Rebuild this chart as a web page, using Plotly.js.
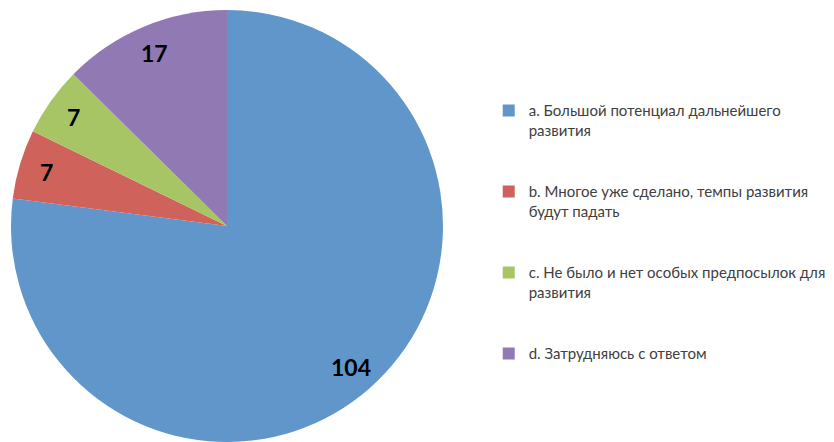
<!DOCTYPE html>
<html>
<head>
<meta charset="utf-8">
<script src="https://cdn.plot.ly/plotly-3.0.1.min.js"></script>
<style>html,body{margin:0;padding:0;background:#fff;}#chart{width:834px;height:442px;}</style>
</head>
<body>
<div id="chart"></div>
<script>
const categories = [
  "a. Большой потенциал дальнейшего<br>развития",
  "b. Многое уже сделано, темпы развития<br>будут падать",
  "c. Не было и нет особых предпосылок для<br>развития",
  "d. Затрудняюсь с ответом"
];
const values = [104, 7, 7, 17];
const colors = ["#6196cb", "#cf625a", "#a7c565", "#917ab4"];
const padLines = ["<br> <br> ", "<br> <br> ", "<br> <br> ", ""];

const W = 834, H = 442;
const domX = [11 / W, 443 / W];
const domY = [0, 432 / H];

const trace = {
  type: "pie",
  labels: categories.map((c, i) => c + padLines[i]),
  values: values,
  sort: false,
  direction: "clockwise",
  rotation: 0,
  marker: {colors: colors, line: {width: 0}},
  textinfo: "none",
  domain: {x: domX, y: domY},
  hoverinfo: "label+value"
};

// value labels placed along each slice's mid-angle (derived from the data)
const total = values.reduce((a, b) => a + b, 0);
const cxPx = (domX[0] + domX[1]) / 2 * W;
const cyPx = (domY[0] + domY[1]) / 2 * H; // from bottom
const rPx = Math.min((domX[1] - domX[0]) * W, (domY[1] - domY[0]) * H) / 2;
const labelFrac = 0.87;
let cum = 0;
const annotations = values.map(v => {
  const mid = (cum + v / 2) / total * 2 * Math.PI;
  cum += v;
  const px = cxPx + Math.sin(mid) * rPx * labelFrac;
  const py = cyPx + Math.cos(mid) * rPx * labelFrac;
  return {
    x: px / W, y: py / H, xref: "paper", yref: "paper",
    text: String(v), showarrow: false,
    xanchor: "center", yanchor: "middle",
    font: {family: "Lato", size: 23, color: "#000", weight: "bold"}
  };
});

const layout = {
  width: W,
  height: H,
  margin: {l: 0, r: 0, t: 0, b: 0, autoexpand: false},
  paper_bgcolor: "#ffffff",
  showlegend: true,
  annotations: annotations,
  legend: {
    x: 0.586, y: 0.787, xanchor: "left", yanchor: "top",
    valign: "top",
    font: {family: "Lato", size: 15, color: "#404040"},
    itemwidth: 30
  }
};

Plotly.newPlot("chart", [trace], layout, {displayModeBar: false, staticPlot: true});
</script>
</body>
</html>
